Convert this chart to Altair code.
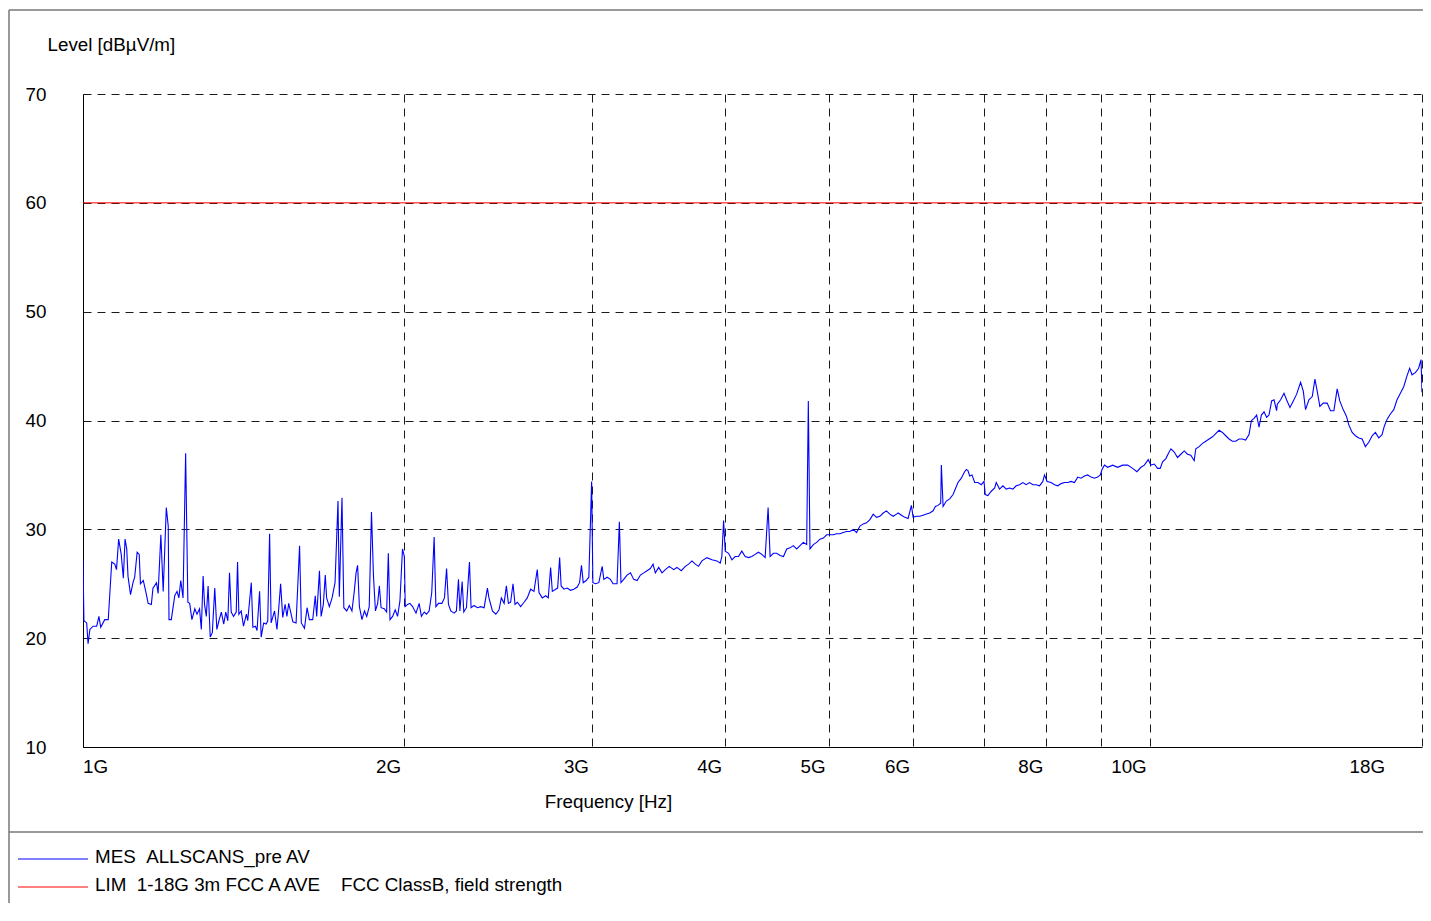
import altair as alt
import pandas as pd

# ---------------- data ----------------
freq_mhz = [
    1000, 1002, 1008, 1011, 1015, 1022, 1030, 1035, 1039, 1048, 1056, 1064, 1071, 1075, 1080, 1086,
    1091, 1095, 1099, 1102, 1108, 1114, 1118, 1124, 1129, 1132, 1139, 1145, 1151, 1159, 1163, 1172,
    1176, 1183, 1189, 1197, 1202, 1204, 1210, 1219, 1225, 1230, 1235, 1241, 1248, 1254, 1259, 1265,
    1273, 1279, 1286, 1291, 1296, 1300, 1305, 1310, 1316, 1322, 1329, 1335, 1341, 1348, 1355, 1361,
    1367, 1372, 1377, 1384, 1392, 1396, 1400, 1407, 1414, 1423, 1427, 1438, 1443, 1451, 1456, 1464,
    1469, 1477, 1485, 1490, 1496, 1501, 1512, 1520, 1526, 1532, 1539, 1547, 1553, 1559, 1573, 1584,
    1596, 1602, 1613, 1622, 1630, 1642, 1651, 1656, 1666, 1672, 1680, 1687, 1692, 1702, 1712, 1723,
    1734, 1739, 1749, 1756, 1767, 1777, 1787, 1796, 1803, 1809, 1816, 1826, 1836, 1845, 1855, 1864,
    1872, 1880, 1889, 1896, 1903, 1916, 1926, 1933, 1940, 1951, 1962, 1972, 1982, 1993, 2001, 2005,
    2015, 2025, 2037, 2052, 2066, 2076, 2089, 2099, 2111, 2123, 2134, 2142, 2154, 2170, 2182, 2192,
    2201, 2212, 2228, 2239, 2249, 2256, 2267, 2275, 2288, 2303, 2311, 2326, 2343, 2360, 2377, 2394,
    2402, 2420, 2438, 2455, 2467, 2482, 2494, 2505, 2517, 2530, 2541, 2554, 2572, 2591, 2609, 2628,
    2647, 2666, 2676, 2695, 2715, 2730, 2744, 2754, 2774, 2786, 2798, 2807, 2824, 2844, 2864, 2885,
    2906, 2921, 2933, 2944, 2963, 2980, 2998, 3006, 3023, 3045, 3067, 3078, 3100, 3122, 3140, 3167,
    3183, 3194, 3213, 3236, 3260, 3283, 3307, 3331, 3355, 3379, 3403, 3423, 3440, 3465, 3490, 3515,
    3545, 3579, 3604, 3638, 3670, 3696, 3723, 3750, 3776, 3804, 3845, 3887, 3929, 3957, 3971, 3986,
    4000, 4029, 4058, 4087, 4116, 4146, 4176, 4206, 4236, 4267, 4297, 4329, 4360, 4388, 4407, 4439,
    4470, 4503, 4536, 4568, 4601, 4634, 4667, 4701, 4735, 4769, 4786, 4803, 4838, 4873, 4908, 4944,
    4979, 5015, 5051, 5087, 5124, 5161, 5198, 5236, 5274, 5311, 5350, 5388, 5427, 5466, 5506, 5545,
    5585, 5626, 5665, 5707, 5748, 5789, 5810, 5852, 5895, 5936, 5979, 6001, 6044, 6087, 6132, 6175,
    6220, 6265, 6296, 6332, 6369, 6378, 6402, 6447, 6494, 6541, 6573, 6611, 6659, 6698, 6731, 6755,
    6780, 6814, 6854, 6902, 6952, 6993, 7012, 7052, 7104, 7156, 7180, 7232, 7285, 7336, 7390, 7443,
    7496, 7550, 7605, 7659, 7715, 7771, 7826, 7883, 7940, 7969, 8013, 8083, 8143, 8200, 8259, 8320,
    8379, 8439, 8501, 8561, 8623, 8686, 8747, 8811, 8875, 8938, 8989, 9022, 9069, 9133, 9232, 9331,
    9433, 9534, 9639, 9728, 9813, 9885, 9969, 10026, 10100, 10171, 10229, 10282, 10355, 10414, 10468, 10544,
    10619, 10695, 10774, 10850, 10928, 11008, 11046, 11126, 11207, 11287, 11368, 11451, 11532, 11616, 11700, 11783,
    11869, 11955, 12040, 12127, 12215, 12302, 12391, 12455, 12527, 12597, 12661, 12726, 12800, 12871, 12937, 13011,
    13078, 13151, 13171, 13266, 13363, 13437, 13535, 13634, 13730, 13850, 13931, 13999, 14101, 14203, 14286, 14356,
    14438, 14544, 14668, 14774, 14883, 14988, 15073, 15184, 15291, 15369, 15481, 15591, 15704, 15818, 15930, 16046,
    16163, 16277, 16395, 16514, 16596, 16692, 16812, 16936, 17055, 17179, 17304, 17426, 17526, 17617, 17742, 17870,
    17962, 18000,
]

level_dbuv = [
    27.2, 21.6, 21.4, 19.5, 20.8, 21.1, 21.1, 22.0, 21.0, 21.7, 21.7, 27.0, 26.8, 26.3, 29.1, 27.7,
    25.5, 29.1, 28.2, 25.7, 24.0, 25.1, 25.6, 27.9, 27.7, 25.0, 25.3, 24.3, 23.2, 23.1, 24.6, 25.1,
    24.1, 29.5, 24.3, 32.0, 30.3, 21.7, 21.7, 23.9, 24.3, 23.7, 25.3, 23.7, 37.0, 23.3, 23.2, 21.7,
    22.7, 22.2, 22.7, 20.8, 25.7, 23.1, 22.0, 24.8, 20.1, 20.5, 24.6, 20.8, 21.6, 22.4, 21.3, 22.4,
    21.6, 26.0, 22.4, 22.0, 22.4, 27.0, 22.2, 22.5, 21.1, 22.2, 21.6, 25.1, 21.0, 21.1, 20.7, 24.3,
    20.1, 21.4, 21.3, 21.6, 29.6, 21.4, 22.5, 20.8, 22.8, 25.0, 21.9, 23.1, 22.0, 23.2, 21.5, 21.4,
    28.5, 21.4, 20.9, 22.8, 21.7, 21.7, 23.9, 22.0, 26.2, 22.0, 23.1, 25.8, 23.7, 22.9, 23.7, 25.1,
    32.6, 23.8, 32.9, 22.8, 22.5, 23.0, 22.5, 24.3, 26.0, 26.7, 22.9, 21.7, 22.5, 22.0, 22.9, 31.6,
    25.7, 22.5, 23.2, 24.8, 22.8, 22.7, 22.4, 27.8, 21.7, 22.0, 22.6, 22.0, 23.4, 28.2, 27.5, 22.9,
    23.1, 23.2, 22.9, 22.3, 23.2, 22.0, 22.4, 22.2, 22.5, 24.2, 29.3, 22.9, 23.2, 23.2, 23.7, 26.4,
    23.1, 22.5, 22.3, 22.5, 25.4, 22.5, 25.2, 22.4, 22.8, 27.0, 22.8, 23.0, 22.8, 22.9, 22.8, 24.6,
    23.7, 22.5, 22.2, 22.6, 23.7, 23.2, 24.8, 23.2, 23.3, 25.0, 23.1, 23.3, 22.9, 23.3, 23.7, 24.5,
    24.3, 26.3, 24.2, 23.7, 23.9, 23.7, 26.5, 24.3, 24.5, 24.6, 27.4, 24.8, 24.5, 24.6, 24.4, 24.5,
    24.7, 25.1, 26.7, 25.1, 25.3, 25.6, 34.4, 25.1, 25.0, 25.1, 26.6, 25.4, 25.6, 25.4, 25.0, 25.0,
    30.7, 25.1, 25.4, 25.8, 26.0, 25.4, 25.3, 25.8, 26.0, 26.2, 26.4, 26.8, 26.0, 26.5, 26.0, 26.3,
    26.6, 26.3, 26.5, 26.2, 26.6, 26.8, 27.1, 26.8, 26.6, 27.1, 27.4, 27.2, 27.1, 26.9, 27.5, 30.8,
    28.0, 27.8, 27.2, 27.5, 27.5, 28.0, 27.5, 27.4, 27.5, 27.7, 27.9, 27.7, 27.4, 32.0, 27.5, 27.8,
    27.8, 27.6, 27.5, 28.2, 28.3, 28.5, 28.2, 28.5, 28.8, 28.6, 41.8, 28.2, 28.6, 28.8, 29.1, 29.2,
    29.5, 29.5, 29.5, 29.6, 29.6, 29.7, 29.8, 29.8, 30.0, 29.7, 30.3, 30.5, 30.6, 30.9, 31.4, 31.1,
    31.2, 31.5, 31.7, 31.4, 31.2, 31.4, 31.5, 31.3, 31.1, 31.0, 32.2, 31.1, 31.2, 31.2, 31.3, 31.4,
    31.5, 31.7, 32.1, 32.2, 32.4, 35.9, 32.1, 32.6, 32.8, 33.2, 33.7, 34.3, 34.7, 35.2, 35.5, 35.4,
    34.9, 35.0, 34.3, 34.3, 34.1, 34.4, 33.2, 33.1, 33.5, 33.8, 34.3, 33.7, 34.0, 33.7, 33.8, 33.7,
    34.0, 34.1, 34.3, 34.1, 34.3, 34.1, 34.1, 34.0, 34.4, 35.0, 34.4, 34.3, 34.1, 34.0, 34.2, 34.3,
    34.3, 34.4, 34.3, 34.8, 34.7, 34.9, 35.0, 34.8, 34.7, 34.8, 35.0, 35.5, 35.9, 35.7, 35.9, 35.7,
    35.9, 35.9, 35.6, 35.3, 35.7, 35.9, 36.4, 35.9, 36.0, 35.6, 35.6, 36.2, 36.5, 37.0, 37.4, 37.1,
    36.6, 36.9, 37.2, 36.9, 36.8, 36.3, 37.4, 37.6, 37.9, 38.1, 38.3, 38.5, 38.8, 39.1, 38.9, 38.6,
    38.3, 38.1, 38.1, 38.3, 38.3, 38.2, 38.7, 40.0, 40.2, 40.5, 39.4, 40.5, 40.8, 40.3, 40.5, 41.8,
    41.9, 40.9, 41.5, 41.9, 42.5, 41.9, 41.2, 41.8, 42.4, 43.5, 42.7, 41.0, 41.9, 42.2, 43.8, 42.7,
    41.3, 41.6, 41.6, 40.9, 40.9, 42.9, 41.8, 41.0, 40.4, 39.6, 38.9, 38.6, 38.4, 38.3, 37.6, 38.0,
    38.6, 38.9, 38.4, 38.7, 39.5, 40.1, 40.6, 41.0, 41.9, 42.5, 43.1, 44.1, 44.8, 44.2, 44.4, 44.8,
    45.6, 42.6,
]

limit_freq_mhz = [1000, 18000]
limit_level = [60, 60]

x_grid_mhz = [1000, 2000, 3000, 4000, 5000, 6000, 7000, 8000, 9000, 10000, 18000]
y_ticks = [10, 20, 30, 40, 50, 60, 70]

x_label_mhz = [1000, 2000, 3000, 4000, 5000, 6000, 8000, 10000, 18000]
x_label_text = ["1G", "2G", "3G", "4G", "5G", "6G", "8G", "10G", "18G"]

legend_names = ["MES\u00a0\u00a0ALLSCANS_pre AV",
                "LIM\u00a0\u00a01-18G 3m FCC A AVE\u00a0\u00a0\u00a0\u00a0FCC ClassB, field strength"]
legend_colors = ["#0000ff", "#ff0000"]

FONT = "Liberation Sans"
FS = 18.8
W, H = 1339, 653

meas = pd.DataFrame({"freq": freq_mhz, "level": level_dbuv})
lim = pd.DataFrame({"freq": limit_freq_mhz, "level": limit_level})
labels = pd.DataFrame({"freq": x_label_mhz, "label": x_label_text})
one = pd.DataFrame({"k": [0]})

xscale = alt.Scale(type="log", domain=[1000, 18000], nice=False)
yscale = alt.Scale(domain=[10, 70], nice=False, zero=False)

x_axis = alt.Axis(values=x_grid_mhz, labels=False, ticks=False, grid=True,
                  gridDash=[8, 6], gridColor="#1a1a1a", gridWidth=1,
                  domainColor="#000000", domainWidth=1,
                  title="Frequency [Hz]", titleFont=FONT, titleFontSize=FS,
                  titleFontWeight="normal", titleColor="#000000",
                  titleX=525, titleY=54, titleAlign="center", titleBaseline="middle")
y_axis = alt.Axis(values=y_ticks, ticks=False, grid=True,
                  gridDash=[8, 6], gridColor="#1a1a1a", gridWidth=1,
                  domainColor="#000000", domainWidth=1,
                  labelFont=FONT, labelFontSize=FS, labelColor="#000000",
                  labelAlign="left", labelPadding=58, labelBaseline="middle",
                  title="Level [dBµV/m]", titleFont=FONT, titleFontSize=FS,
                  titleFontWeight="normal", titleColor="#000000", titleAngle=0,
                  titleX=-36, titleY=-50, titleAlign="left", titleBaseline="middle")

trace = alt.Chart(meas).mark_line(color="#0000ff", strokeWidth=1.1, clip=True).encode(
    x=alt.X("freq:Q", scale=xscale, axis=x_axis),
    y=alt.Y("level:Q", scale=yscale, axis=y_axis),
)

limit = alt.Chart(lim).mark_line(color="#ff0000", strokeWidth=1).encode(
    x=alt.X("freq:Q", scale=xscale),
    y=alt.Y("level:Q", scale=yscale),
)

lab_first = alt.Chart(labels).transform_filter(alt.datum.freq == 1000).mark_text(
    align="left", baseline="middle", font=FONT, fontSize=FS, color="#000000", dx=0
).encode(x=alt.X("freq:Q", scale=xscale), y=alt.value(673), text="label:N")

lab_mid = alt.Chart(labels).transform_filter(
    (alt.datum.freq > 1000) & (alt.datum.freq < 18000)
).mark_text(
    align="right", baseline="middle", font=FONT, fontSize=FS, color="#000000", dx=-3
).encode(x=alt.X("freq:Q", scale=xscale), y=alt.value(673), text="label:N")

lab_last = alt.Chart(labels).transform_filter(alt.datum.freq == 18000).mark_text(
    align="right", baseline="middle", font=FONT, fontSize=FS, color="#000000", dx=-37
).encode(x=alt.X("freq:Q", scale=xscale), y=alt.value(673), text="label:N")

# outer frame of the report figure
frame_col = "#777777"
frame_top = alt.Chart(one).mark_rule(color=frame_col, strokeWidth=1.5).encode(
    x=alt.value(-74), x2=alt.value(1345), y=alt.value(-84))
frame_left = alt.Chart(one).mark_rule(color=frame_col, strokeWidth=1.5).encode(
    x=alt.value(-74), y=alt.value(-84), y2=alt.value(830))
frame_sep = alt.Chart(one).mark_rule(color=frame_col, strokeWidth=1.5).encode(
    x=alt.value(-74), x2=alt.value(1345), y=alt.value(738))

# legend block
leg1_line = alt.Chart(one).mark_rule(color=legend_colors[0], strokeWidth=1).encode(
    x=alt.value(-65), x2=alt.value(5), y=alt.value(765))
leg2_line = alt.Chart(one).mark_rule(color=legend_colors[1], strokeWidth=1).encode(
    x=alt.value(-65), x2=alt.value(5), y=alt.value(793))
leg1_text = alt.Chart(one).mark_text(
    align="left", baseline="middle", font=FONT, fontSize=FS, color="#000000", text=legend_names[0]
).encode(x=alt.value(12), y=alt.value(763))
leg2_text = alt.Chart(one).mark_text(
    align="left", baseline="middle", font=FONT, fontSize=FS, color="#000000", text=legend_names[1]
).encode(x=alt.value(12), y=alt.value(791))

chart = alt.layer(
    trace, limit, lab_first, lab_mid, lab_last,
    frame_top, frame_left, frame_sep,
    leg1_line, leg2_line, leg1_text, leg2_text,
).properties(
    width=W, height=H,
    padding={"left": 75, "top": 86, "right": 1, "bottom": 156},
    autosize=alt.AutoSizeParams(type="none"),
    background="#ffffff",
).configure_view(stroke=None)

chart.save("out.html", embed_options={"renderer": "svg", "actions": False})
